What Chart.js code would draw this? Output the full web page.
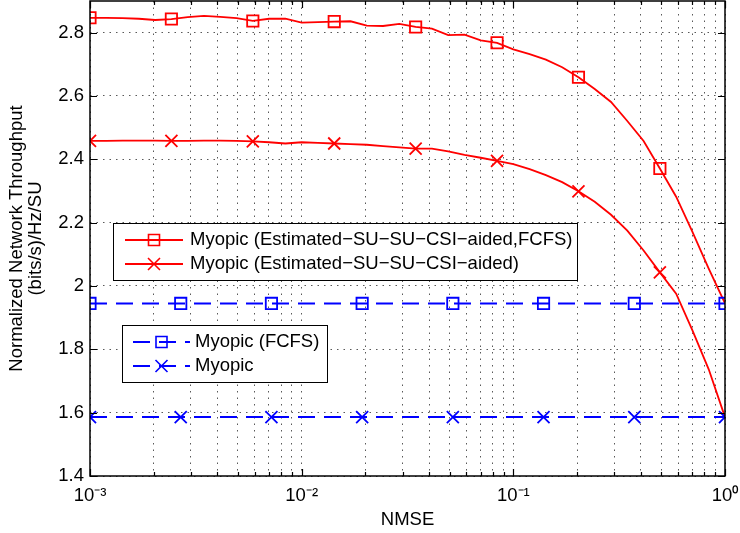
<!DOCTYPE html>
<html><head><meta charset="utf-8">
<script src="https://cdn.jsdelivr.net/npm/chart.js@4.4.1/dist/chart.umd.min.js"></script>
<style>html,body{margin:0;padding:0;background:#fff}canvas{display:block}</style>
</head><body>
<canvas id="c" width="740" height="533"></canvas>
<script>
// ---- data ----
const nmseFine = [0.001, 0.001194, 0.001425, 0.001701, 0.002031, 0.002424, 0.002894, 0.003455, 0.004125, 0.004924, 0.005878, 0.007017, 0.008377,
  0.01, 0.01194, 0.01425, 0.01701, 0.02031, 0.02424, 0.02894, 0.03455, 0.04125, 0.04924, 0.05878, 0.07017, 0.08377,
  0.1, 0.1194, 0.1425, 0.1701, 0.2031, 0.2424, 0.2894, 0.3455, 0.4125, 0.4924, 0.5878, 0.7017, 0.8377, 1];
const estFcfsY = [2.847, 2.847, 2.846, 2.844, 2.840, 2.843, 2.849, 2.853, 2.850, 2.846, 2.837, 2.844, 2.844,
  2.832, 2.833, 2.835, 2.836, 2.822, 2.821, 2.828, 2.818, 2.813, 2.792, 2.794, 2.776, 2.768,
  2.747, 2.732, 2.715, 2.691, 2.659, 2.622, 2.581, 2.521, 2.458, 2.371, 2.282, 2.171, 2.055, 1.945];
const estY = [2.458, 2.458, 2.459, 2.459, 2.459, 2.458, 2.458, 2.459, 2.459, 2.458, 2.457, 2.454, 2.450,
  2.454, 2.452, 2.450, 2.448, 2.446, 2.442, 2.438, 2.434, 2.434, 2.425, 2.414, 2.405, 2.395,
  2.385, 2.369, 2.350, 2.328, 2.299, 2.266, 2.225, 2.175, 2.112, 2.043, 1.976, 1.860, 1.737, 1.586];
const nmseCoarse = [0.001, 0.002683, 0.007197, 0.01931, 0.05179, 0.1389, 0.3728, 1];
const myopicFcfsY = [1.945, 1.945, 1.945, 1.945, 1.945, 1.945, 1.945, 1.945];
const myopicY = [1.586, 1.586, 1.586, 1.586, 1.586, 1.586, 1.586, 1.586];
const seriesNames = ['Myopic (Estimated\u2212SU\u2212SU\u2212CSI\u2212aided,FCFS)', 'Myopic (Estimated\u2212SU\u2212SU\u2212CSI\u2212aided)', 'Myopic (FCFS)', 'Myopic'];
const xTickValues = [0.001, 0.01, 0.1, 1];
const xTickLabels = ['10\u207B\u00B3', '10\u207B\u00B2', '10\u207B\u00B9', '10\u2070'];
const yTickValues = [1.4, 1.6, 1.8, 2, 2.2, 2.4, 2.6, 2.8];
const yTickLabels = ['1.4', '1.6', '1.8', '2', '2.2', '2.4', '2.6', '2.8'];

const RED = '#ff0000', BLUE = '#0000ff';
const FONT = "'Liberation Sans', Arial, Helvetica, sans-serif";
const FS = 18.5;
const MARK_EVERY = 5;

// minor grid positions for the log axis
const xGridValues = [];
xTickValues.slice(0, 3).forEach(d => { for (let m = 1; m <= 9; m++) xGridValues.push(m === 1 ? d : +(m * d).toPrecision(6)); });
xGridValues.push(1);

const pts = (xs, ys) => xs.map((x, i) => ({x, y: ys[i]}));
const fineRadius = r => c => (c.dataIndex % MARK_EVERY === 0 && c.dataIndex < nmseFine.length - 1) ? r : 0;

function drawMarker(ctx, style, x, y, color) {
  ctx.save();
  ctx.strokeStyle = color; ctx.lineWidth = 1.6; ctx.setLineDash([]);
  ctx.beginPath();
  if (style === 'rect') { ctx.rect(x - 5.5, y - 5.5, 11, 11); }
  else { const h = 6; ctx.moveTo(x - h, y - h); ctx.lineTo(x + h, y + h); ctx.moveTo(x + h, y - h); ctx.lineTo(x - h, y + h); }
  ctx.stroke();
  ctx.restore();
}

const legends = [
  {dx: 23, dy: 222, w: 464, h: 57, textDx: 77, sample: [12, 70], rows: [
    {name: seriesNames[0], color: RED, dash: [], style: 'rect'},
    {name: seriesNames[1], color: RED, dash: [], style: 'crossRot'}]},
  {dx: 32, dy: 324, w: 205, h: 57, textDx: 73, sample: [11, 68], rows: [
    {name: seriesNames[2], color: BLUE, dash: [17, 9], style: 'rect'},
    {name: seriesNames[3], color: BLUE, dash: [17, 9], style: 'crossRot'}]}
];

const framePlugin = {
  id: 'frame',
  afterDatasetsDraw(chart) {
    const {ctx, chartArea: a, scales: {x, y}} = chart;
    ctx.save();
    ctx.strokeStyle = '#000'; ctx.lineWidth = 1.2; ctx.setLineDash([]);
    ctx.beginPath();
    xGridValues.forEach(v => {
      const px = Math.round(x.getPixelForValue(v)) + 0.5;
      const len = xTickValues.includes(v) ? 7 : 4;
      ctx.moveTo(px, a.bottom); ctx.lineTo(px, a.bottom - len);
      ctx.moveTo(px, a.top); ctx.lineTo(px, a.top + len);
    });
    yTickValues.forEach(v => {
      const py = Math.round(y.getPixelForValue(v)) + 0.5;
      ctx.moveTo(a.left, py); ctx.lineTo(a.left + 7, py);
      ctx.moveTo(a.right, py); ctx.lineTo(a.right - 7, py);
    });
    ctx.stroke();
    ctx.lineWidth = 1.5;
    ctx.strokeRect(a.left, a.top, a.right - a.left, a.bottom - a.top);
    ctx.restore();
  },
  afterDraw(chart) {
    const {ctx, chartArea: a} = chart;
    ctx.save();
    legends.forEach(L => {
      const bx = a.left + L.dx, by = a.top + L.dy;
      ctx.fillStyle = '#fff'; ctx.fillRect(bx, by, L.w, L.h);
      ctx.strokeStyle = '#000'; ctx.lineWidth = 1; ctx.setLineDash([]);
      ctx.strokeRect(bx + 0.5, by + 0.5, L.w, L.h);
      L.rows.forEach((r, i) => {
        const cy = by + 17 + i * 24;
        const x1 = bx + L.sample[0], x2 = bx + L.sample[1];
        ctx.strokeStyle = r.color; ctx.lineWidth = 1.8; ctx.setLineDash(r.dash);
        ctx.beginPath(); ctx.moveTo(x1, cy); ctx.lineTo(x2, cy); ctx.stroke();
        ctx.setLineDash([]);
        drawMarker(ctx, r.style, (x1 + x2) / 2, cy, r.color);
        ctx.fillStyle = '#000'; ctx.font = FS + 'px ' + FONT; ctx.textBaseline = 'middle'; ctx.textAlign = 'left';
        ctx.fillText(r.name, bx + L.textDx, cy);
      });
    });
    ctx.restore();
  }
};

new Chart(document.getElementById('c'), {
  type: 'line',
  data: {
    datasets: [
      {label: seriesNames[2], data: pts(nmseCoarse, myopicFcfsY), borderColor: BLUE, borderWidth: 2, borderDash: [17, 9],
        pointStyle: 'rect', pointRadius: 8, pointBorderColor: BLUE, pointBackgroundColor: 'rgba(0,0,0,0)', pointBorderWidth: 1.8},
      {label: seriesNames[3], data: pts(nmseCoarse, myopicY), borderColor: BLUE, borderWidth: 2, borderDash: [17, 9],
        pointStyle: 'crossRot', pointRadius: 8.5, pointBorderColor: BLUE, pointBackgroundColor: 'rgba(0,0,0,0)', pointBorderWidth: 1.8},
      {label: seriesNames[0], data: pts(nmseFine, estFcfsY), borderColor: RED, borderWidth: 1.8,
        pointStyle: 'rect', pointRadius: fineRadius(8), pointBorderColor: RED, pointBackgroundColor: 'rgba(0,0,0,0)', pointBorderWidth: 1.8},
      {label: seriesNames[1], data: pts(nmseFine, estY), borderColor: RED, borderWidth: 1.8,
        pointStyle: 'crossRot', pointRadius: fineRadius(8.5), pointBorderColor: RED, pointBackgroundColor: 'rgba(0,0,0,0)', pointBorderWidth: 1.8}
    ]
  },
  options: {
    animation: false, responsive: false, events: [],
    layout: {autoPadding: false, padding: {top: 1, right: 15, left: 0, bottom: 0}},
    plugins: {legend: {display: false}, tooltip: {enabled: false}},
    elements: {line: {tension: 0}},
    scales: {
      x: {
        type: 'logarithmic', min: 0.001, max: 1,
        afterBuildTicks: s => { s.ticks = xGridValues.map(v => ({value: v})); },
        afterFit: s => { s.height = 57; s.paddingLeft = 0; s.paddingRight = 0; },
        ticks: {autoSkip: false, maxRotation: 0, minRotation: 0, padding: 9, color: '#000', font: {family: FONT, size: FS},
          callback: v => { const k = xTickValues.indexOf(v); return k >= 0 ? xTickLabels[k] : ''; }},
        grid: {color: 'rgba(0,0,0,0.65)', lineWidth: 1, drawTicks: false},
        border: {display: false, dash: [1.5, 5]},
        title: {display: true, text: 'NMSE', color: '#000', font: {family: FONT, size: FS, lineHeight: 1.2}, padding: {top: 0, bottom: 2}}
      },
      y: {
        type: 'linear', min: 1.4, max: 2.9,
        afterBuildTicks: s => { s.ticks = yTickValues.map(v => ({value: v})); },
        afterFit: s => { s.width = 90; s.paddingTop = 0; s.paddingBottom = 0; },
        ticks: {padding: 6, color: '#000', font: {family: FONT, size: FS},
          callback: v => { const k = yTickValues.indexOf(v); return k >= 0 ? yTickLabels[k] : ''; }},
        grid: {color: 'rgba(0,0,0,0.65)', lineWidth: 1, drawTicks: false},
        border: {display: false, dash: [1.5, 5]},
        title: {display: true, text: ['Normalized Network Throughput', '(bits/s)/Hz/SU'], color: '#000',
          font: {family: FONT, size: FS, lineHeight: 1.0}, padding: {top: 8, bottom: 0}}
      }
    }
  },
  plugins: [framePlugin]
});
</script>
</body></html>
